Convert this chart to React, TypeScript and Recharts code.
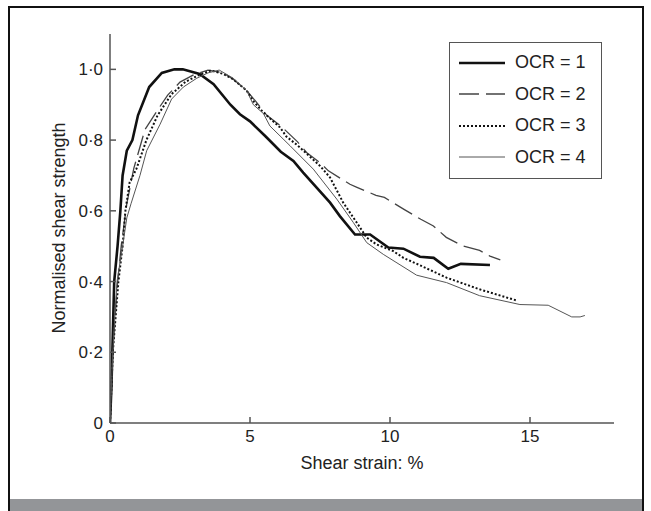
import React from 'react';
import { LineChart, Line, XAxis, YAxis } from 'recharts';

// strain (%) and normalised strength
const ocr1Strain = [0, 0.05, 0.1, 0.15, 0.27, 0.37, 0.45, 0.6, 0.8, 1.0, 1.4, 1.85, 2.3, 2.6, 3.2, 3.7, 4.3, 4.64, 5.0, 5.56, 6.1, 6.55, 6.9, 7.86, 8.21, 8.75, 9.29, 9.94, 10.48, 11.07, 11.56, 12.08, 12.53, 13.57];
const ocr1Strength = [0, 0.1, 0.25, 0.4, 0.5, 0.6, 0.7, 0.77, 0.8, 0.87, 0.95, 0.99, 1.0, 1.0, 0.987, 0.958, 0.9, 0.873, 0.853, 0.81, 0.767, 0.741, 0.708, 0.623, 0.585, 0.533, 0.533, 0.496, 0.493, 0.47, 0.467, 0.436, 0.45, 0.447];

const ocr2Strain = [0, 0.1, 0.25, 0.4, 0.6, 0.85, 1.25, 1.7, 2.06, 2.5, 3.0, 3.5, 4.05, 4.4, 4.88, 5.2, 5.6, 6.1, 6.7, 7.02, 7.56, 7.8, 8.57, 8.8, 9.5, 9.8, 10.5, 11.1, 11.55, 12.01, 12.56, 13.2, 13.57, 13.94];
const ocr2Strength = [0, 0.2, 0.38, 0.5, 0.62, 0.72, 0.83, 0.885, 0.927, 0.964, 0.985, 0.998, 0.99, 0.972, 0.94, 0.91, 0.87, 0.84, 0.795, 0.765, 0.732, 0.713, 0.675, 0.667, 0.644, 0.638, 0.604, 0.576, 0.557, 0.525, 0.502, 0.488, 0.472, 0.461];

const ocr3Strain = [0, 0.1, 0.3, 0.45, 0.55, 0.7, 0.95, 1.3, 1.7, 2.2, 2.7, 3.2, 3.6, 4.05, 4.4, 4.88, 5.12, 5.48, 6.07, 6.3, 6.7, 7.5, 7.86, 8.33, 8.81, 9.17, 9.52, 10.12, 10.48, 11.07, 12.02, 13.2, 14.5];
const ocr3Strength = [0, 0.2, 0.4, 0.5, 0.6, 0.68, 0.72, 0.8, 0.87, 0.93, 0.965, 0.985, 0.997, 0.987, 0.972, 0.94, 0.91, 0.878, 0.836, 0.81, 0.785, 0.727, 0.694, 0.623, 0.567, 0.524, 0.505, 0.486, 0.467, 0.446, 0.411, 0.378, 0.347];

const ocr4Strain = [0, 0.1, 0.25, 0.45, 0.6, 0.75, 1.07, 1.31, 1.79, 2.2, 2.62, 3.1, 3.5, 3.9, 4.4, 4.88, 5.12, 5.48, 5.71, 6.43, 7.26, 8.1, 8.69, 9.17, 9.76, 10.95, 12.02, 13.2, 14.64, 15.65, 16.49, 16.79, 16.96];
const ocr4Strength = [0, 0.2, 0.4, 0.5, 0.58, 0.62, 0.7, 0.77, 0.845, 0.916, 0.95, 0.975, 0.99, 0.998, 0.975, 0.94, 0.9, 0.875, 0.84, 0.784, 0.718, 0.633, 0.567, 0.51, 0.477, 0.418, 0.397, 0.36, 0.335, 0.333, 0.3, 0.3, 0.304];

const xTicks = [0, 5, 10, 15];
const yTicks = [0, 0.2, 0.4, 0.6, 0.8, 1.0];

const toPoints = (strain: number[], strength: number[]) =>
  strain.map((s, i) => ({ strain: s, strength: strength[i] }));

const series = [
  { name: 'OCR = 1', data: toPoints(ocr1Strain, ocr1Strength), stroke: '#111', width: 2.6, dash: undefined },
  { name: 'OCR = 2', data: toPoints(ocr2Strain, ocr2Strength), stroke: '#444', width: 1.3, dash: '20 7' },
  { name: 'OCR = 3', data: toPoints(ocr3Strain, ocr3Strength), stroke: '#111', width: 2, dash: '2 2' },
  { name: 'OCR = 4', data: toPoints(ocr4Strain, ocr4Strength), stroke: '#555', width: 1, dash: undefined },
];

const FONT = '"Liberation Sans", Arial, sans-serif';
const TEXT = '#222';
const AXIS = '#555';

const formatY = (v: number) => (v === 0 ? '0' : v.toFixed(1).replace('.', '·'));

const LegendBox = () => (
  <div
    style={{
      position: 'absolute',
      left: 449,
      top: 42,
      width: 151,
      height: 131,
      border: '1.5px solid #555',
      background: '#fff',
      fontFamily: FONT,
      fontSize: 18,
      color: TEXT,
      paddingTop: 4,
    }}
  >
    {series.map((s) => (
      <div key={s.name} style={{ display: 'flex', alignItems: 'center', height: 31.5 }}>
        <svg width={46} height={10} style={{ marginLeft: 9, marginRight: 10 }}>
          <line x1={0} y1={5} x2={46} y2={5} stroke={s.stroke} strokeWidth={s.width} strokeDasharray={s.dash} />
        </svg>
        <span>{s.name}</span>
      </div>
    ))}
  </div>
);

const App: React.FC = () => {
  return (
    <div style={{ position: 'absolute', left: 0, top: 0, width: 651, height: 511, background: '#fff', overflow: 'hidden' }}>
      <div
        style={{
          position: 'absolute',
          left: 8,
          top: 6,
          width: 632,
          height: 510,
          border: '2px solid #111',
        }}
      />
      <div style={{ position: 'absolute', left: 10, top: 499, width: 632, height: 12, background: '#939598' }} />
      <div style={{ position: 'absolute', left: 0, top: 0 }}>
        <LineChart width={651} height={511} margin={{ top: 34, right: 37, left: 50, bottom: 48 }}>
          <XAxis
            type="number"
            dataKey="strain"
            domain={[0, 18]}
            ticks={xTicks}
            allowDataOverflow
            stroke={AXIS}
            strokeWidth={1.5}
            tickSize={-6}
            tickMargin={13}
            height={40}
            tick={{ fill: TEXT, fontSize: 17, fontFamily: FONT }}
            label={{
              content: () => (
                <text x={362} y={469} textAnchor="middle" fill={TEXT} fontSize={18} fontFamily={FONT}>
                  Shear strain: %
                </text>
              ),
            }}
          />
          <YAxis
            type="number"
            dataKey="strength"
            domain={[0, 1.1]}
            ticks={yTicks}
            allowDataOverflow
            stroke={AXIS}
            strokeWidth={1.5}
            tickSize={-6}
            tickMargin={13}
            width={60}
            tickFormatter={formatY}
            tick={{ fill: TEXT, fontSize: 17, fontFamily: FONT }}
            label={{
              content: () => (
                <text
                  x={0}
                  y={0}
                  transform="translate(64.5 228) rotate(-90)"
                  textAnchor="middle"
                  fill={TEXT}
                  fontSize={18}
                  fontFamily={FONT}
                >
                  Normalised shear strength
                </text>
              ),
            }}
          />
          {series.map((s) => (
            <Line
              key={s.name}
              name={s.name}
              data={s.data}
              dataKey="strength"
              type="linear"
              stroke={s.stroke}
              strokeWidth={s.width}
              strokeDasharray={s.dash}
              dot={false}
              activeDot={false}
              isAnimationActive={false}
            />
          ))}
        </LineChart>
      </div>
      <LegendBox />
    </div>
  );
};

export default App;
